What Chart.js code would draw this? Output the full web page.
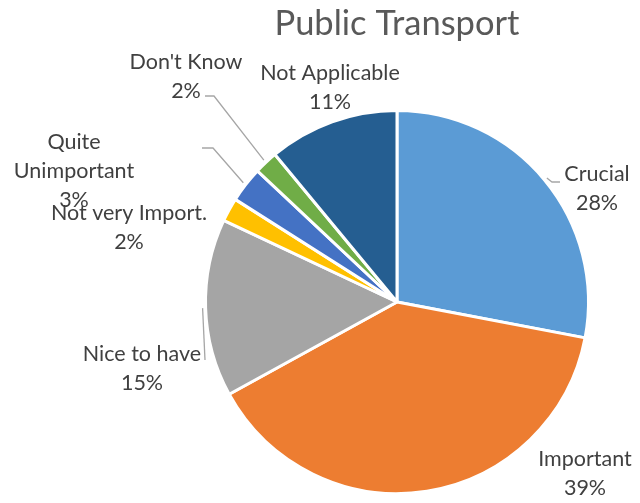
<!DOCTYPE html>
<html>
<head>
<meta charset="utf-8">
<script src="https://cdn.jsdelivr.net/npm/chart.js@4/dist/chart.umd.min.js"></script>
<style>
  html, body { margin: 0; padding: 0; background: #ffffff; }
  #wrap { width: 640px; height: 503px; }
</style>
</head>
<body>
<div id="wrap"><canvas id="c" width="640" height="503"></canvas></div>
<script>
// ---- data ----
const chartTitle = "Public Transport";
const categories = ["Crucial", "Important", "Nice to have", "Not very Import.", "Quite Unimportant", "Don't Know", "Not Applicable"];
const values = [28, 39, 15, 2, 3, 2, 11];
const colors = ["#5B9BD5", "#ED7D31", "#A5A5A5", "#FFC000", "#4472C4", "#70AD47", "#255E91"];

// ---- label layout (offsets from pie centre, px) ----
const labelLines = [["Crucial"], ["Important"], ["Nice to have"], ["Not very Import."], ["Quite", "Unimportant"], ["Don't Know"], ["Not Applicable"]];
const labelOffsets = [[200, -113], [188, 172], [-255, 67], [-268, -74], [-323, -131], [-211, -225], [-67, -214]];
// leader lines: list of points (offsets from pie centre) from label side, ending at slice mid-point
const leaderPaths = [
  [[163, -120], [155, -120]],
  null,
  [[-192, 58]],
  null,
  [[-195, -154], [-184, -154]],
  [[-192, -206], [-183, -206]],
  null
];

const FONT = "Lato, 'Open Sans', sans-serif";

const labelPlugin = {
  id: 'excelLabels',
  afterDraw(chart) {
    const ctx = chart.ctx;
    const meta = chart.getDatasetMeta(0);
    const total = values.reduce((a, b) => a + b, 0);
    const cx = meta.data[0].x, cy = meta.data[0].y;
    ctx.save();
    // title
    ctx.fillStyle = '#595959';
    ctx.font = '34.5px ' + FONT;
    ctx.textAlign = 'center';
    ctx.textBaseline = 'alphabetic';
    ctx.fillText(chartTitle, cx, cy - 267);

    // leader lines
    ctx.strokeStyle = '#A6A6A6';
    ctx.lineWidth = 1.3;
    meta.data.forEach((arc, i) => {
      const path = leaderPaths[i];
      if (!path) return;
      const mid = (arc.startAngle + arc.endAngle) / 2;
      const r = arc.outerRadius + 3;
      ctx.beginPath();
      path.forEach((p, k) => {
        if (k === 0) ctx.moveTo(cx + p[0], cy + p[1]);
        else ctx.lineTo(cx + p[0], cy + p[1]);
      });
      ctx.lineTo(arc.x + Math.cos(mid) * r, arc.y + Math.sin(mid) * r);
      ctx.stroke();
    });

    // labels
    ctx.fillStyle = '#404040';
    ctx.font = '21.5px ' + FONT;
    ctx.textBaseline = 'middle';
    const lh = 29;
    meta.data.forEach((arc, i) => {
      const pct = Math.round(values[i] / total * 100) + '%';
      const lines = labelLines[i].concat([pct]);
      const bx = cx + labelOffsets[i][0];
      const by = cy + labelOffsets[i][1];
      const top = by - (lines.length - 1) * lh / 2;
      lines.forEach((t, k) => ctx.fillText(t, bx, top + k * lh));
    });
    ctx.restore();
  }
};

new Chart(document.getElementById('c'), {
  type: 'pie',
  data: {
    labels: categories,
    datasets: [{
      data: values,
      backgroundColor: colors,
      borderColor: '#ffffff',
      borderWidth: 3
    }]
  },
  options: {
    responsive: false,
    animation: false,
    radius: 191.5,
    layout: { padding: { left: 205.5, right: 51.5, top: 110.5, bottom: 9.5 } },
    plugins: {
      legend: { display: false },
      title: { display: false },
      tooltip: { enabled: false }
    }
  },
  plugins: [labelPlugin]
});
</script>
</body>
</html>
